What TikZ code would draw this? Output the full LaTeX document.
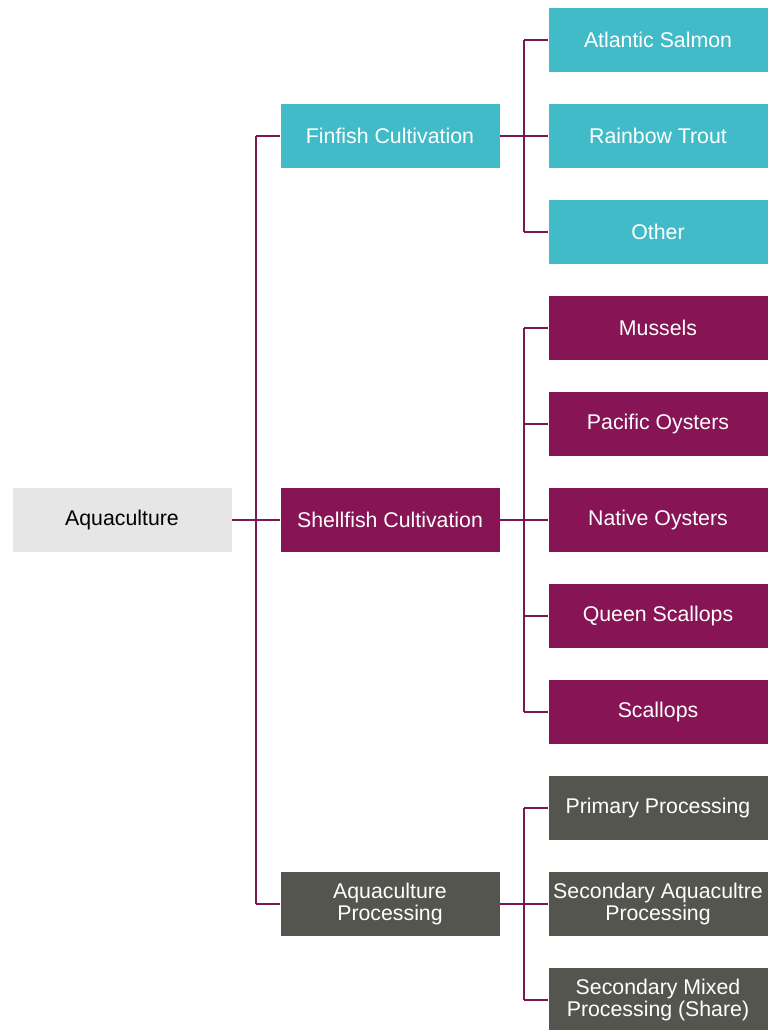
\documentclass[tikz,border=0pt]{standalone}
\usepackage{fontspec}
\setmainfont{Liberation Sans}
\usepackage{tikz}
\usetikzlibrary{positioning,calc}

\definecolor{finteal}{RGB}{66,187,201}
\definecolor{shellmag}{RGB}{135,20,85}
\definecolor{procgrey}{RGB}{85,85,80}
\definecolor{rootgrey}{RGB}{230,230,230}
\definecolor{linkmag}{RGB}{122,22,80}

\begin{document}
\begin{tikzpicture}[
    x=1pt, y=1pt,
    node distance=31pt,
    box/.style={rectangle, draw=white, line width=0.6pt, minimum width=220pt, minimum height=65pt, inner sep=0pt, outer sep=0pt, align=center, text=white, font=\fontsize{21.3}{22}\selectfont},
    fin/.style={box, fill=finteal},
    shell/.style={box, fill=shellmag},
    proc/.style={box, fill=procgrey},
    link/.style={draw=linkmag, line width=2.6pt}
]
\useasboundingbox (0,0) rectangle (769,-1030);

\node[fin] (salmon) at (658,-40) {Atlantic Salmon};
\node[fin, below=of salmon] (trout) {Rainbow Trout};
\node[fin, below=of trout] (other) {Other};
\node[shell, below=of other] (mussels) {Mussels};
\node[shell, below=of mussels] (pacific) {Pacific Oysters};
\node[shell, below=of pacific] (native) {Native Oysters};
\node[shell, below=of native] (queen) {Queen Scallops};
\node[shell, below=of queen] (scallops) {Scallops};
\node[proc, below=of scallops] (primary) {Primary Processing};
\node[proc, below=of primary] (secaqua) {Secondary Aquacultre\\Processing};
\node[proc, below=of secaqua] (secmixed) {Secondary Mixed\\Processing (Share)};

\node[fin, left=48pt of trout] (finfish) {Finfish Cultivation};
\node[shell, left=48pt of native] (shellfish) {Shellfish Cultivation};
\node[proc, left=48pt of secaqua] (processing) {Aquaculture\\Processing};
\node[box, fill=rootgrey, text=black, left=48pt of shellfish] (root) {Aquaculture};

\coordinate[left=24pt of finfish.west] (mainbus);
\coordinate[right=24pt of finfish.east] (finbus);
\coordinate[right=24pt of shellfish.east] (shellbus);
\coordinate[right=24pt of processing.east] (procbus);

\draw[link] (root.east) -- (root.east -| mainbus);
\draw[link] (mainbus) -- (processing.west -| mainbus);
\foreach \n in {finfish,shellfish,processing}
    \draw[link] (\n.west) -- (\n.west -| mainbus);

\draw[link] (finfish.east) -- (finbus);
\draw[link] (salmon.west -| finbus) -- (other.west -| finbus);
\foreach \n in {salmon,trout,other}
    \draw[link] (\n.west) -- (\n.west -| finbus);

\draw[link] (shellfish.east) -- (shellbus);
\draw[link] (mussels.west -| shellbus) -- (scallops.west -| shellbus);
\foreach \n in {mussels,pacific,native,queen,scallops}
    \draw[link] (\n.west) -- (\n.west -| shellbus);

\draw[link] (processing.east) -- (procbus);
\draw[link] (primary.west -| procbus) -- (secmixed.west -| procbus);
\foreach \n in {primary,secaqua,secmixed}
    \draw[link] (\n.west) -- (\n.west -| procbus);

\end{tikzpicture}
\end{document}
